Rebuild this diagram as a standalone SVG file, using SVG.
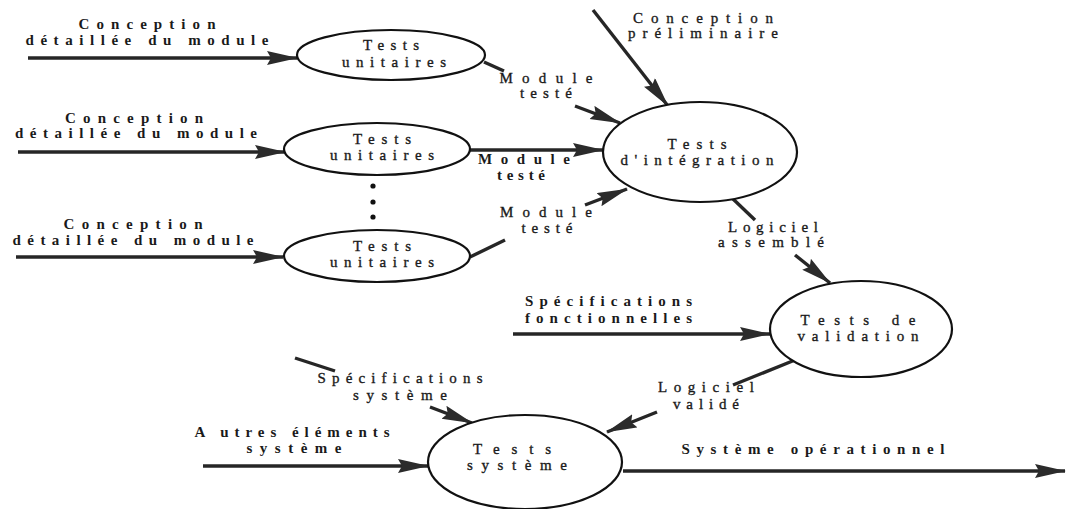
<svg xmlns="http://www.w3.org/2000/svg" width="1067" height="509" viewBox="0 0 1067 509">
  <defs>
    <marker id="head" markerUnits="userSpaceOnUse" markerWidth="34" markerHeight="16" refX="30" refY="7" orient="auto">
      <path d="M0,0 L31,7 L0,14 L4,7 z" fill="#2b2b2b"/>
    </marker>
    <style>
      .bubble { fill: #ffffff; stroke: #111111; stroke-width: 2.2; }
      .flow { stroke: #262626; stroke-width: 3.4; fill: none; stroke-linecap: butt; }
      .flow.in { marker-end: url(#head); }
      text { font-family: "Liberation Serif", "DejaVu Serif", serif; fill: #1a1a1a; }
      .t { font-size: 15px; text-anchor: middle; stroke: #1a1a1a; stroke-width: 0.35; }
      .b { font-size: 15px; font-weight: bold; }
      .c { text-anchor: middle; }
    </style>
  </defs>

  <rect width="1067" height="509" fill="#ffffff"/>

  <!-- flows between the test stages -->
  <g id="connectors">
    <line class="flow in" x1="28" y1="58" x2="297" y2="58"/>
    <line class="flow in" x1="18" y1="152" x2="285" y2="152"/>
    <line class="flow in" x1="16" y1="257" x2="283" y2="257"/>

    <line class="flow" x1="484" y1="62" x2="504" y2="71"/>
    <line class="flow in" x1="575" y1="106" x2="620" y2="123"/>

    <line class="flow in" x1="470" y1="150" x2="603" y2="150"/>

    <line class="flow" x1="470" y1="257" x2="505" y2="240"/>
    <line class="flow in" x1="585" y1="205" x2="627" y2="189"/>

    <line class="flow in" x1="593" y1="10" x2="668" y2="106"/>

    <line class="flow" x1="732" y1="198" x2="755" y2="220"/>
    <line class="flow in" x1="795" y1="255" x2="830" y2="283"/>

    <line class="flow in" x1="513" y1="334" x2="770" y2="334"/>

    <line class="flow" x1="795" y1="360" x2="733" y2="385"/>
    <line class="flow in" x1="657" y1="412" x2="607" y2="432"/>

    <line class="flow" x1="295" y1="358" x2="335" y2="371"/>
    <line class="flow in" x1="430" y1="407" x2="472" y2="423"/>

    <line class="flow in" x1="203" y1="466" x2="428" y2="466"/>

    <line class="flow in" x1="623" y1="471" x2="1065" y2="471"/>
  </g>

  <!-- flow labels -->
  <g id="labels">
    <text class="b c" x="147" y="29" textLength="137" lengthAdjust="spacing">Conception</text>
    <text class="b c" x="147" y="45" textLength="243" lengthAdjust="spacing">détaillée du module</text>
    <text class="b c" x="134" y="123" textLength="138" lengthAdjust="spacing">Conception</text>
    <text class="b c" x="136" y="138" textLength="242" lengthAdjust="spacing">détaillée du module</text>
    <text class="b c" x="133" y="229" textLength="139" lengthAdjust="spacing">Conception</text>
    <text class="b c" x="133" y="245" textLength="241" lengthAdjust="spacing">détaillée du module</text>

    <text class="t" x="546" y="83" textLength="93" lengthAdjust="spacing">Module</text>
    <text class="t" x="546" y="98" textLength="52" lengthAdjust="spacing">testé</text>

    <text class="b c" x="524" y="164" textLength="92" lengthAdjust="spacing">Module</text>
    <text class="b c" x="521" y="180" textLength="48" lengthAdjust="spacing">testé</text>

    <text class="t" x="546" y="217" textLength="92" lengthAdjust="spacing">Module</text>
    <text class="t" x="547" y="233" textLength="51" lengthAdjust="spacing">testé</text>

    <text class="t" x="703" y="23" textLength="140" lengthAdjust="spacing">Conception</text>
    <text class="t" x="703" y="38" textLength="150" lengthAdjust="spacing">préliminaire</text>

    <text class="t" x="773" y="232" textLength="90" lengthAdjust="spacing">Logiciel</text>
    <text class="t" x="771" y="247" textLength="106" lengthAdjust="spacing">assemblé</text>

    <text class="b" x="525" y="306" textLength="167" lengthAdjust="spacing">Spécifications</text>
    <text class="b" x="525" y="323" textLength="167" lengthAdjust="spacing">fonctionnelles</text>

    <text class="t" x="706" y="392" textLength="96" lengthAdjust="spacing">Logiciel</text>
    <text class="t" x="706" y="409" textLength="66" lengthAdjust="spacing">validé</text>

    <text class="t" x="400" y="383" textLength="165" lengthAdjust="spacing">Spécifications</text>
    <text class="t" x="400" y="400" textLength="94" lengthAdjust="spacing">système</text>

    <text class="b c" x="292" y="437" textLength="195" lengthAdjust="spacing">A utres éléments</text>
    <text class="b c" x="294" y="453" textLength="95" lengthAdjust="spacing">système</text>

    <text class="b c" x="813" y="454" textLength="263" lengthAdjust="spacing">Système opérationnel</text>
  </g>

  <!-- unit test stages -->
  <g id="unit-tests-1">
    <ellipse class="bubble" cx="391" cy="55" rx="94" ry="25"/>
    <text class="t" x="391" y="50" textLength="56" lengthAdjust="spacing">Tests</text>
    <text class="t" x="394" y="67" textLength="104" lengthAdjust="spacing">unitaires</text>
  </g>
  <g id="unit-tests-2">
    <ellipse class="bubble" cx="377" cy="149" rx="93" ry="26"/>
    <text class="t" x="382" y="144" textLength="58" lengthAdjust="spacing">Tests</text>
    <text class="t" x="382" y="160" textLength="104" lengthAdjust="spacing">unitaires</text>
  </g>
  <g id="more-modules">
    <circle cx="373" cy="186" r="2.6" fill="#111"/>
    <circle cx="373" cy="202" r="2.6" fill="#111"/>
    <circle cx="373" cy="217" r="2.6" fill="#111"/>
  </g>
  <g id="unit-tests-3">
    <ellipse class="bubble" cx="377" cy="256" rx="93" ry="26"/>
    <text class="t" x="382" y="251" textLength="58" lengthAdjust="spacing">Tests</text>
    <text class="t" x="382" y="267" textLength="104" lengthAdjust="spacing">unitaires</text>
  </g>

  <!-- integration, validation and system stages -->
  <g id="integration-tests">
    <ellipse class="bubble" cx="700" cy="152" rx="97" ry="50"/>
    <text class="t" x="697" y="149" textLength="59" lengthAdjust="spacing">Tests</text>
    <text class="t" x="697" y="165" textLength="153" lengthAdjust="spacing">d'intégration</text>
  </g>
  <g id="validation-tests">
    <ellipse class="bubble" cx="861" cy="329" rx="91" ry="48"/>
    <text class="t" x="858" y="325" textLength="115" lengthAdjust="spacing">Tests de</text>
    <text class="t" x="858" y="341" textLength="121" lengthAdjust="spacing">validation</text>
  </g>
  <g id="system-tests">
    <ellipse class="bubble" cx="525" cy="462" rx="97" ry="47"/>
    <text class="t" x="512" y="454" textLength="78" lengthAdjust="spacing">Tests</text>
    <text class="t" x="517" y="470" textLength="100" lengthAdjust="spacing">système</text>
  </g>
</svg>
